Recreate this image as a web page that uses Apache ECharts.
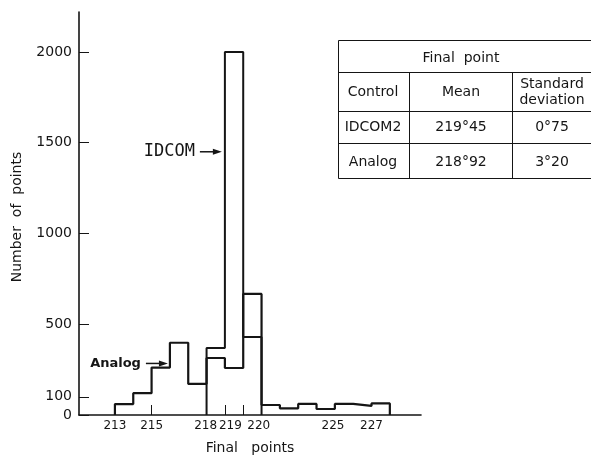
<!DOCTYPE html>
<html><head><meta charset="utf-8">
<script src="https://cdn.jsdelivr.net/npm/echarts@6/dist/echarts.min.js"></script>
<style>html,body{margin:0;padding:0;background:#fff}#c{width:591px;height:458px}</style>
</head><body><div id="c"></div>
<script>
// Histogram bins are indexed 0..14 (equal-width bins as drawn)
const analogCounts = [60, 120, 261, 398, 171, 314, 259, 667, 55, 37, 61, 33, 61, 50, 64];
const idcomCounts  = [0, 0, 0, 0, 0, 369, 2000, 430, 0, 0, 0, 0, 0, 0, 0];
const xTickLabels = ['213', '215', '218', '219', '220', '225', '227'];
const xTickPositions = [0, 2, 4.95, 6.3, 7.85, 11.9, 14];
const xTickMarks = [2, 6, 7];
const yTickValues = [0, 100, 500, 1000, 1500, 2000];
const tableTitle = 'Final  point';
const tableHeader = ['Control', 'Mean', 'Standard\ndeviation'];
const tableRows = [['IDCOM2', '219°45', '0°75'], ['Analog', '218°92', '3°20']];

const FONT = 'DejaVu Sans';
const INK = '#151515';

function stepPoints(counts) {
  let a = counts.findIndex(v => v > 0), b = counts.length - 1;
  while (counts[b] === 0) b--;
  const pts = [[a, 0]];
  for (let i = a; i <= b; i++) pts.push([i, counts[i]]);
  pts.push([b + 1, counts[b]], [b + 1, 0]);
  return pts;
}

const chart = echarts.init(document.getElementById('c'), null, {renderer: 'canvas'});
const option = {
  animation: false,
  backgroundColor: '#fff',
  grid: {left: 79, right: 170, top: 12, bottom: 43},
  xAxis: {
    type: 'value', min: -1.96, max: 16.7,
    axisLine: {show: true, onZero: false, lineStyle: {color: INK, width: 1.6}},
    axisTick: {show: true, inside: true, length: 10, customValues: xTickMarks, lineStyle: {color: INK, width: 1}},
    axisLabel: {
      show: true, customValues: xTickPositions, margin: 5, color: INK, fontFamily: FONT, fontSize: 12,
      formatter: v => {
        let best = 0;
        xTickPositions.forEach((p, i) => { if (Math.abs(p - v) < Math.abs(xTickPositions[best] - v)) best = i; });
        return xTickLabels[best];
      }
    },
    splitLine: {show: false}
  },
  yAxis: {
    type: 'value', min: 0, max: 2220,
    axisLine: {show: true, onZero: false, lineStyle: {color: INK, width: 1.6}},
    axisTick: {show: true, inside: true, length: 10, customValues: yTickValues, lineStyle: {color: INK, width: 1}},
    axisLabel: {show: true, customValues: yTickValues, margin: 7, color: INK, fontFamily: FONT, fontSize: 14,
      formatter: v => String(v)},
    splitLine: {show: false}
  },
  series: [
    {name: 'Analog', type: 'line', step: 'end', symbol: 'none', data: stepPoints(analogCounts),
     lineStyle: {color: INK, width: 2.2}, z: 3},
    {name: 'IDCOM', type: 'line', step: 'end', symbol: 'none', data: stepPoints(idcomCounts),
     lineStyle: {color: INK, width: 2}, z: 4}
  ]
};
chart.setOption(option);

function arrowAnno(label, dataPt, dx, fontOpts) {
  const p = chart.convertToPixel({gridIndex: 0}, dataPt);
  const tipX = p[0] + dx, y = p[1];
  return [
    {type: 'line', shape: {x1: tipX - 22, y1: y, x2: tipX - 6, y2: y}, style: {stroke: INK, lineWidth: 1.5}},
    {type: 'polygon', shape: {points: [[tipX, y], [tipX - 9, y - 3], [tipX - 9, y + 3]]}, style: {fill: INK}},
    {type: 'text', x: tipX - 27, y: y, style: Object.assign({text: label, fill: INK, align: 'right', verticalAlign: 'middle'}, fontOpts)}
  ];
}

const g = [];
g.push(...arrowAnno('IDCOM', [6, 1450], -3, {font: '17px "DejaVu Sans Mono"'}));
g.push(...arrowAnno('Analog', [3, 284], -2, {font: 'bold 13px "DejaVu Sans"'}));
g.push({type: 'text', x: 17, y: 217, rotation: Math.PI / 2,
  style: {text: 'Number  of  points', fill: INK, align: 'center', verticalAlign: 'middle', font: '14px "DejaVu Sans"'}});
g.push({type: 'text', x: 250, y: 448,
  style: {text: 'Final   points', fill: INK, align: 'center', verticalAlign: 'middle', font: '14px "DejaVu Sans"'}});

// table
const TX0 = 338.5, TX1 = 409.5, TX2 = 512.5, TXR = 596;
const TY = [40.5, 72.5, 111.5, 143.5, 178.5];
TY.forEach(y => g.push({type: 'line', shape: {x1: TX0, y1: y, x2: TXR, y2: y}, style: {stroke: INK, lineWidth: 1}}));
g.push({type: 'line', shape: {x1: TX0, y1: TY[0], x2: TX0, y2: TY[4]}, style: {stroke: INK, lineWidth: 1}});
[TX1, TX2].forEach(x => g.push({type: 'line', shape: {x1: x, y1: TY[1], x2: x, y2: TY[4]}, style: {stroke: INK, lineWidth: 1}}));
const colC = [373, 461, 552];
const tfont = '14px "DejaVu Sans"';
g.push({type: 'text', x: 461, y: 58, style: {text: tableTitle, fill: INK, align: 'center', verticalAlign: 'middle', font: tfont}});
tableHeader.forEach((t, i) => g.push({type: 'text', x: colC[i], y: 92,
  style: {text: t, fill: INK, align: 'center', verticalAlign: 'middle', font: tfont, lineHeight: 16}}));
const rowY = [127, 162];
tableRows.forEach((r, j) => r.forEach((t, i) => g.push({type: 'text', x: colC[i], y: rowY[j],
  style: {text: t, fill: INK, align: 'center', verticalAlign: 'middle', font: '14px "DejaVu Sans"'}})));

chart.setOption({graphic: {elements: g}});
</script>
</body></html>
